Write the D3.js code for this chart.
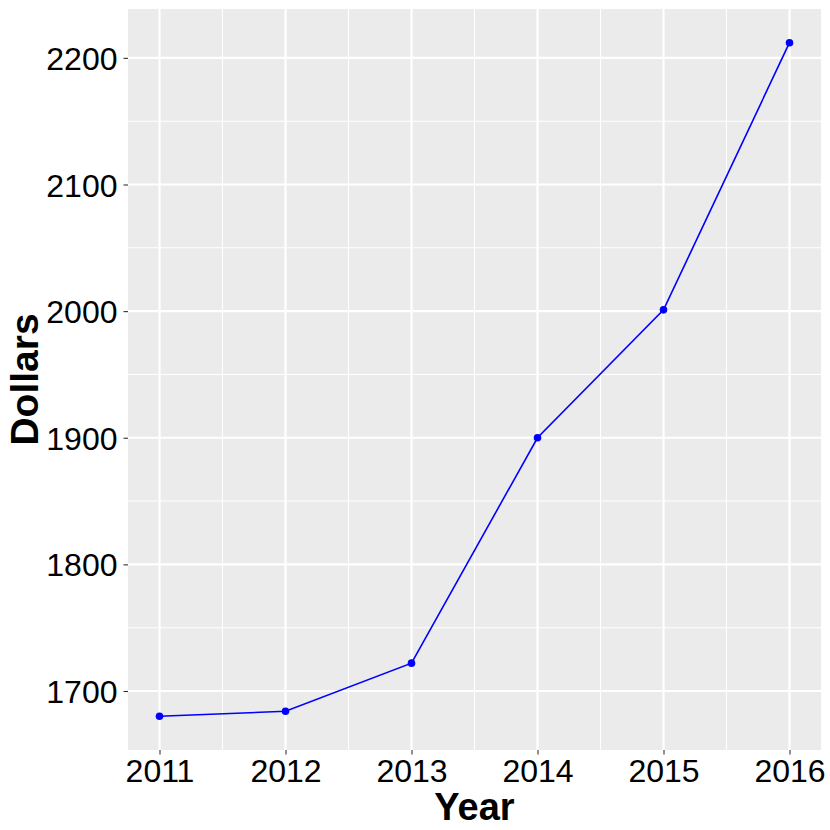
<!DOCTYPE html>
<html><head><meta charset="utf-8">
<script src="https://cdn.jsdelivr.net/npm/d3@7"></script>
<style>body{margin:0;background:#fff}text{font-family:"Liberation Sans",Arial,sans-serif}</style>
</head><body>
<svg id="c" width="830" height="830"></svg>
<script>
const years = [2011, 2012, 2013, 2014, 2015, 2016];
const dollars = [1680, 1684, 1722, 1900, 2001, 2212];
const yTicks = [1700, 1800, 1900, 2000, 2100, 2200];
const yMinor = [1750, 1850, 1950, 2050, 2150];
const xMinor = [2011.5, 2012.5, 2013.5, 2014.5, 2015.5];

const svg = d3.select("#c");
const L = 128, R = 821, T = 9, B = 750;
const ext = d3.extent(dollars), pad = (ext[1]-ext[0])*0.05;
const x = d3.scaleLinear().domain([2010.75, 2016.25]).range([L, R]);
const y = d3.scaleLinear().domain([ext[0]-pad, ext[1]+pad]).range([B, T]);

svg.append("rect").attr("x", L).attr("y", T).attr("width", R-L).attr("height", B-T).attr("fill", "#ebebeb");
const g = svg.append("g");
g.selectAll(".ym").data(yMinor).join("line").attr("x1", L).attr("x2", R).attr("y1", d=>y(d)).attr("y2", d=>y(d)).attr("stroke", "#fff").attr("stroke-width", 1.1);
g.selectAll(".xm").data(xMinor).join("line").attr("y1", T).attr("y2", B).attr("x1", d=>x(d)).attr("x2", d=>x(d)).attr("stroke", "#fff").attr("stroke-width", 1.1);
g.selectAll(".yM").data(yTicks).join("line").attr("x1", L).attr("x2", R).attr("y1", d=>y(d)).attr("y2", d=>y(d)).attr("stroke", "#fff").attr("stroke-width", 2.2);
g.selectAll(".xM").data(years).join("line").attr("y1", T).attr("y2", B).attr("x1", d=>x(d)).attr("x2", d=>x(d)).attr("stroke", "#fff").attr("stroke-width", 2.2);

const xAxis = svg.append("g").attr("transform", `translate(0,${B})`)
  .call(d3.axisBottom(x).tickValues(years).tickFormat(d3.format("d")).tickSize(4.5).tickPadding(5));
const yAxis = svg.append("g").attr("transform", `translate(${L},0)`)
  .call(d3.axisLeft(y).tickValues(yTicks).tickFormat(d3.format("d")).tickSize(4.5).tickPadding(6));
[xAxis, yAxis].forEach(a => {
  a.select(".domain").remove();
  a.selectAll(".tick line").attr("stroke", "#333").attr("stroke-width", 1.1);
  a.selectAll(".tick text").attr("fill", "#000").style("font-size", "32px");
});
xAxis.selectAll(".tick text").attr("dy", "0.71em");
yAxis.selectAll(".tick text").attr("dy", "0.36em");

const line = d3.line().x((d,i)=>x(years[i])).y(d=>y(d));
svg.append("path").datum(dollars).attr("d", line).attr("fill", "none").attr("stroke", "#0000ff").attr("stroke-width", 1.6);
svg.selectAll(".pt").data(dollars).join("circle").attr("cx", (d,i)=>x(years[i])).attr("cy", d=>y(d)).attr("r", 3.8).attr("fill", "#0000ff");

svg.append("text").attr("x", (L+R)/2).attr("y", 820).attr("text-anchor", "middle")
  .style("font-size", "38px").style("font-weight", "bold").text("Year");
svg.append("text").attr("transform", `translate(38,${(T+B)/2}) rotate(-90)`).attr("text-anchor", "middle")
  .style("font-size", "39px").style("font-weight", "bold").text("Dollars");
</script>
</body></html>
